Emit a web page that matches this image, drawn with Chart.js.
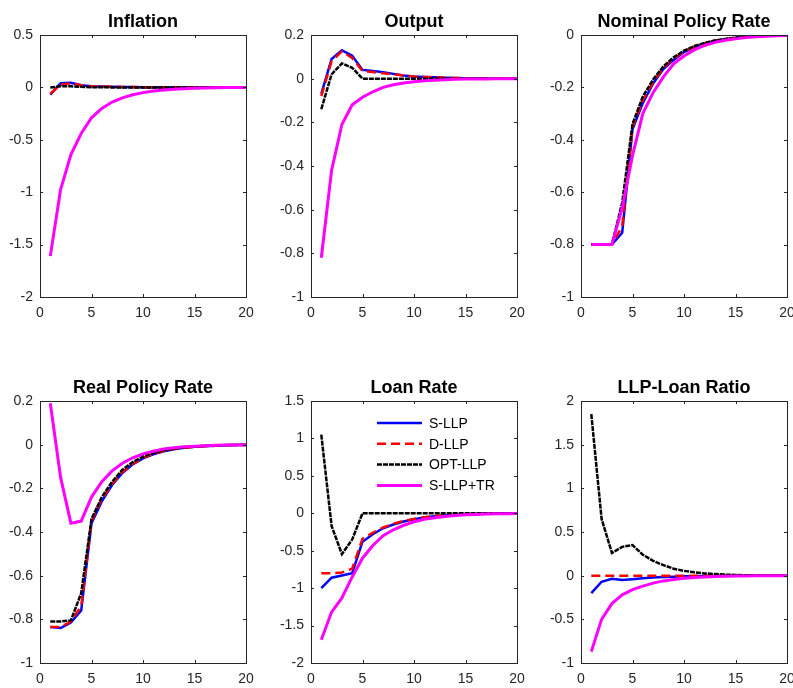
<!DOCTYPE html>
<html>
<head>
<meta charset="utf-8">
<script src="https://cdn.jsdelivr.net/npm/chart.js@4.4.1/dist/chart.umd.min.js"></script>
<style>
  html, body { margin: 0; padding: 0; background: #fff; overflow: hidden; }
  body { width: 793px; height: 688px; position: relative; }
  .panel { position: absolute; width: 256px; height: 322px; }
</style>
</head>
<body>
<div class="panel" style="left:0px;top:1px"><canvas id="c0"></canvas></div>
<div class="panel" style="left:271px;top:1px"><canvas id="c1"></canvas></div>
<div class="panel" style="left:541px;top:1px"><canvas id="c2"></canvas></div>
<div class="panel" style="left:0px;top:367px"><canvas id="c3"></canvas></div>
<div class="panel" style="left:271px;top:367px"><canvas id="c4"></canvas></div>
<div class="panel" style="left:541px;top:367px"><canvas id="c5"></canvas></div>
<script>
var periods = [1,2,3,4,5,6,7,8,9,10,11,12,13,14,15,16,17,18,19,20];
var seriesNames = ["S-LLP", "D-LLP", "OPT-LLP", "S-LLP+TR"];
var panelTitles = ["Inflation", "Output", "Nominal Policy Rate", "Real Policy Rate", "Loan Rate", "LLP-Loan Ratio"];

var infS = [-0.07,0.04,0.045,0.02,0.01,0.008,0.006,0.004,0.003,0.002,0.001,0.001,0,0,0,0,0,0,0,0];
var infD = [-0.06,0.025,0.04,0.02,0.01,0.008,0.006,0.004,0.003,0.002,0.001,0.001,0,0,0,0,0,0,0,0];
var infO = [0,0.01,0.01,0.005,0.002,0.001,0,0,0,0,0,0,0,0,0,0,0,0,0,0];
var infT = [-1.61,-0.975,-0.64,-0.44,-0.29,-0.2,-0.14,-0.1,-0.07,-0.05,-0.035,-0.025,-0.017,-0.012,-0.008,-0.005,-0.003,-0.002,-0.001,0];

var outS = [-0.07,0.09,0.13,0.105,0.04,0.035,0.03,0.022,0.015,0.01,0.008,0.006,0.004,0.003,0.002,0.001,0.001,0,0,0];
var outD = [-0.08,0.08,0.125,0.095,0.035,0.03,0.025,0.02,0.015,0.01,0.008,0.006,0.004,0.003,0.002,0.001,0.001,0,0,0];
var outO = [-0.14,0.02,0.07,0.05,0,0,0,0,0,0,0,0,0,0,0,0,0,0,0,0];
var outT = [-0.82,-0.42,-0.21,-0.12,-0.085,-0.06,-0.04,-0.028,-0.02,-0.014,-0.01,-0.007,-0.005,-0.003,-0.002,-0.001,-0.001,0,0,0];

var nomS = [-0.8,-0.8,-0.8,-0.755,-0.36,-0.26,-0.185,-0.13,-0.095,-0.065,-0.047,-0.033,-0.023,-0.016,-0.011,-0.008,-0.005,-0.003,-0.002,-0.001];
var nomD = [-0.8,-0.8,-0.8,-0.73,-0.35,-0.25,-0.18,-0.125,-0.09,-0.063,-0.045,-0.032,-0.022,-0.015,-0.011,-0.007,-0.005,-0.003,-0.002,-0.001];
var nomO = [-0.8,-0.8,-0.8,-0.64,-0.34,-0.235,-0.17,-0.12,-0.085,-0.06,-0.042,-0.03,-0.021,-0.015,-0.01,-0.007,-0.005,-0.003,-0.002,-0.001];
var nomT = [-0.8,-0.8,-0.8,-0.66,-0.46,-0.3,-0.22,-0.16,-0.11,-0.08,-0.057,-0.04,-0.028,-0.02,-0.014,-0.01,-0.007,-0.005,-0.003,-0.002];

var realS = [-0.835,-0.84,-0.815,-0.76,-0.36,-0.26,-0.185,-0.13,-0.09,-0.063,-0.044,-0.03,-0.021,-0.014,-0.01,-0.007,-0.005,-0.003,-0.002,-0.001];
var realD = [-0.835,-0.835,-0.81,-0.74,-0.35,-0.25,-0.18,-0.125,-0.088,-0.06,-0.042,-0.029,-0.02,-0.014,-0.01,-0.007,-0.005,-0.003,-0.002,-0.001];
var realO = [-0.81,-0.81,-0.805,-0.68,-0.34,-0.24,-0.17,-0.115,-0.08,-0.055,-0.038,-0.026,-0.018,-0.012,-0.008,-0.005,-0.003,-0.002,-0.001,0];
var realT = [0.19,-0.15,-0.36,-0.35,-0.24,-0.17,-0.12,-0.085,-0.06,-0.042,-0.03,-0.02,-0.014,-0.01,-0.007,-0.005,-0.003,-0.002,-0.001,0];

var loanS = [-1.0,-0.86,-0.83,-0.8,-0.38,-0.28,-0.2,-0.15,-0.11,-0.08,-0.055,-0.04,-0.028,-0.02,-0.014,-0.01,-0.007,-0.005,-0.003,-0.002];
var loanD = [-0.8,-0.8,-0.79,-0.74,-0.34,-0.26,-0.19,-0.14,-0.1,-0.075,-0.052,-0.038,-0.027,-0.019,-0.013,-0.009,-0.006,-0.004,-0.003,-0.002];
var loanO = [1.05,-0.17,-0.545,-0.35,0,0,0,0,0,0,0,0,0,0,0,0,0,0,0,0];
var loanT = [-1.69,-1.32,-1.13,-0.85,-0.6,-0.43,-0.3,-0.22,-0.16,-0.115,-0.08,-0.06,-0.042,-0.03,-0.021,-0.015,-0.01,-0.007,-0.005,-0.003];

var llpS = [-0.2,-0.07,-0.035,-0.05,-0.04,-0.03,-0.022,-0.016,-0.011,-0.008,-0.006,-0.004,-0.003,-0.002,-0.001,-0.001,0,0,0,0];
var llpD = [0,0,0,0,0,0,0,0,0,0,0,0,0,0,0,0,0,0,0,0];
var llpO = [1.85,0.65,0.26,0.33,0.35,0.24,0.17,0.12,0.08,0.055,0.038,0.026,0.018,0.012,0.008,0.005,0.003,0.002,0.001,0];
var llpT = [-0.87,-0.5,-0.32,-0.22,-0.16,-0.12,-0.085,-0.06,-0.043,-0.03,-0.021,-0.015,-0.01,-0.007,-0.005,-0.003,-0.002,-0.001,0,0];

// y axis limits per panel: [min, max, step]
var yMin = [-2, -1, -1, -1, -2, -1];
var yMax = [0.5, 0.2, 0, 0.2, 1.5, 2];
var yStep = [0.5, 0.2, 0.2, 0.2, 0.5, 0.5];
var xTicks = [0, 5, 10, 15, 20];

var panelData = [
  [infS, infD, infO, infT],
  [outS, outD, outO, outT],
  [nomS, nomD, nomO, nomT],
  [realS, realD, realO, realT],
  [loanS, loanD, loanO, loanT],
  [llpS, llpD, llpO, llpT]
];

var lineStyles = [
  { color: '#0000ff', width: 2.5, dash: [] },
  { color: '#ff0000', width: 2.5, dash: [9, 5] },
  { color: '#000000', width: 2.5, dash: [5, 1] },
  { color: '#ff00ff', width: 3, dash: [] }
];

var axisColor = '#262626';
var fontFamily = '"Liberation Sans", Arial, Helvetica, sans-serif';

// box round the plot, inward tick marks, and the panel title
var boxPlugin = {
  id: 'boxPlugin',
  afterDraw: function(chart) {
    var a = chart.chartArea, ctx = chart.ctx;
    var xs = chart.scales.x, ys = chart.scales.y;
    ctx.save();
    ctx.strokeStyle = axisColor;
    ctx.lineWidth = 1;
    ctx.strokeRect(Math.round(a.left) + 0.5, Math.round(a.top) + 0.5,
                   Math.round(a.right - a.left), Math.round(a.bottom - a.top));
    ctx.beginPath();
    xs.ticks.forEach(function(t) {
      var px = Math.round(xs.getPixelForValue(t.value)) + 0.5;
      ctx.moveTo(px, a.bottom); ctx.lineTo(px, a.bottom - 3);
      ctx.moveTo(px, a.top); ctx.lineTo(px, a.top + 3);
    });
    ys.ticks.forEach(function(t) {
      var py = Math.round(ys.getPixelForValue(t.value)) + 0.5;
      ctx.moveTo(a.left, py); ctx.lineTo(a.left + 3, py);
      ctx.moveTo(a.right, py); ctx.lineTo(a.right - 3, py);
    });
    ctx.stroke();

    var title = chart.options.plugins.boxPlugin.title;
    ctx.fillStyle = '#000';
    ctx.font = 'bold 18px ' + fontFamily;
    ctx.textAlign = 'center';
    ctx.textBaseline = 'middle';
    ctx.fillText(title, (a.left + a.right) / 2, a.top - 13);

    if (chart.options.plugins.boxPlugin.legend) {
      ctx.font = '14px ' + fontFamily;
      ctx.textAlign = 'left';
      chart.data.datasets.forEach(function(ds, i) {
        var y = a.top + 22 + i * 20.8;
        ctx.save();
        ctx.strokeStyle = ds.borderColor;
        ctx.lineWidth = ds.borderWidth;
        ctx.setLineDash(ds.borderDash);
        ctx.beginPath();
        ctx.moveTo(a.left + 66, y);
        ctx.lineTo(a.left + 111, y);
        ctx.stroke();
        ctx.restore();
        ctx.fillStyle = '#000';
        ctx.fillText(ds.label, a.left + 118, y + 1);
      });
    }
    ctx.restore();
  }
};

for (var p = 0; p < 6; p++) {
  var datasets = panelData[p].map(function(vals, i) {
    return {
      label: seriesNames[i],
      data: vals.map(function(v, k) { return { x: periods[k], y: v }; }),
      borderColor: lineStyles[i].color,
      borderWidth: lineStyles[i].width,
      borderDash: lineStyles[i].dash,
      pointRadius: 0,
      tension: 0,
      fill: false,
      order: 3 - i
    };
  });
  new Chart(document.getElementById('c' + p), {
    type: 'line',
    data: { datasets: datasets },
    plugins: [boxPlugin],
    options: {
      responsive: true,
      maintainAspectRatio: false,
      animation: false,
      layout: { padding: { top: 34, right: 10, left: 0, bottom: 0 } },
      plugins: {
        legend: { display: false },
        tooltip: { enabled: false },
        title: { display: false },
        boxPlugin: { title: panelTitles[p], legend: p === 4 }
      },
      scales: {
        x: {
          type: 'linear',
          min: 0, max: 20,
          afterBuildTicks: function(s) { s.ticks = xTicks.map(function(v) { return { value: v }; }); },
          afterFit: function(s) { s.height = 26; s.paddingLeft = 0; s.paddingRight = 0; },
          grid: { display: false, drawTicks: false },
          border: { display: false },
          ticks: { color: axisColor, padding: 8, maxRotation: 0, font: { family: fontFamily, size: 14 } }
        },
        y: {
          min: yMin[p], max: yMax[p],
          afterFit: function(s) { s.width = 40; },
          grid: { display: false, drawTicks: false },
          border: { display: false },
          ticks: {
            stepSize: yStep[p],
            color: axisColor,
            padding: 7,
            font: { family: fontFamily, size: 14 },
            callback: function(v) { return String(+v.toFixed(2)); }
          }
        }
      }
    }
  });
}
</script>
</body>
</html>
